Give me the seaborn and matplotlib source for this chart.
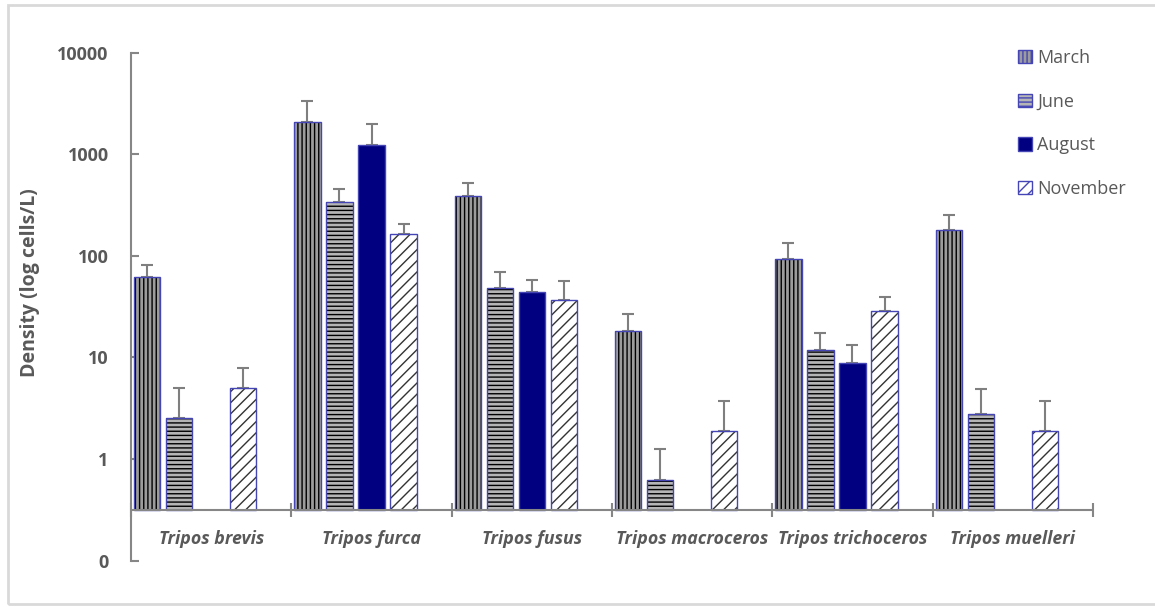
import seaborn as sns
import matplotlib.pyplot as plt
import matplotlib.patches as mpatches
from matplotlib.ticker import FixedLocator, NullLocator
import numpy as np
import pandas as pd

species = ['Tripos brevis', 'Tripos furca', 'Tripos fusus',
           'Tripos macroceros', 'Tripos trichoceros', 'Tripos muelleri']
months = ['March', 'June', 'August', 'November']

# mean density (cells/L), None = no record
march = [62, 2090, 385, 18.4, 93, 180]
june = [2.53, 341, 48, 0.625, 11.9, 2.77]
august = [None, 1232, 43.9, None, 8.9, None]
november = [5.06, 164, 36.8, 1.87, 28.9, 1.87]

# upper error bar
march_err = [19, 1240, 136, 8.3, 41, 74]
june_err = [2.5, 114, 21, 0.64, 5.4, 2.1]
august_err = [None, 736, 14.4, None, 4.4, None]
november_err = [2.8, 42, 19.8, 1.9, 10.6, 1.9]

yticks = [0.1, 1, 10, 100, 1000, 10000]
yticklabels = ['0', '1', '10', '100', '1000', '10000']

values = {'March': march, 'June': june, 'August': august, 'November': november}
errors = {'March': march_err, 'June': june_err, 'August': august_err, 'November': november_err}

rows = []
for m in months:
    for s, v in zip(species, values[m]):
        if v is not None:
            rows.append({'species': s, 'month': m, 'density': v})
data = pd.DataFrame(rows)

sns.set_theme(style='white')
plt.rcParams['font.family'] = ['Open Sans', 'DejaVu Sans']
plt.rcParams['hatch.linewidth'] = 1.0

text_gray = '#595959'
axis_gray = '#868686'
edge_blue = '#4545b5'
styles = {
    'March': dict(fc='#9c9c9c', hatch='||||', hc='black'),
    'June': dict(fc='#b5b5b5', hatch='----', hc='black'),
    'August': dict(fc='#000080', hatch='', hc='#000080'),
    'November': dict(fc='white', hatch='///', hc='#333333'),
}
base = 10 ** -0.5  # where the category axis crosses

fig = plt.figure(figsize=(11.55, 6.07), dpi=100)
ax = fig.add_axes([131 / 1155, 0.0763, 962 / 1155, 0.8369])

# extra empty hue level keeps the 5-slot spacing of the original
hue_levels = months + ['_blank']
pal = {m: styles[m]['fc'] for m in months}
pal['_blank'] = 'white'
sns.barplot(data=data, x='species', y='density', hue='month', order=species,
            hue_order=hue_levels, palette=pal, width=1.0, gap=0.18,
            errorbar=None, legend=False, ax=ax)

for cont, m in zip(ax.containers, hue_levels):
    if m not in styles:
        continue
    st = styles[m]
    xs, tops, errs = [], [], []
    for p in cont.patches:
        top = p.get_y() + p.get_height()
        p.set_y(base)
        p.set_height(top - base)
        p.set_facecolor(st['fc'])
        p.set_hatch(st['hatch'])
        p.set_edgecolor(st['hc'])
        p.set_linewidth(0)
        ax.add_patch(mpatches.Rectangle(p.get_xy(), p.get_width(), p.get_height(),
                                        fill=False, ec=edge_blue, lw=1.0, zorder=p.get_zorder() + 0.1))
        cx = p.get_x() + p.get_width() / 2
        i = int(round(cx))
        xs.append(cx)
        tops.append(top)
        errs.append(errors[m][i])
    ax.errorbar(xs, tops, yerr=[np.zeros(len(errs)), errs], fmt='none',
                ecolor='#7f7f7f', elinewidth=1.5, capsize=4, capthick=1.5, zorder=1)

ax.set_yscale('log')
ax.set_ylim(0.1, 10000)
ax.set_xlim(-0.5, len(species) - 0.5)
ax.yaxis.set_major_locator(FixedLocator(yticks))
ax.yaxis.set_minor_locator(NullLocator())
ax.set_yticklabels(yticklabels)
ax.tick_params(axis='y', direction='in', length=6, width=1.5, color=axis_gray,
               labelcolor=text_gray, labelsize=13, pad=16, left=True)
for lab in ax.get_yticklabels():
    lab.set_fontweight('bold')
ax.tick_params(axis='x', bottom=False, labelbottom=False)
ax.set_xlabel('')
ax.set_ylabel('')
for side in ['top', 'right', 'bottom']:
    ax.spines[side].set_visible(False)
ax.spines['left'].set_color(axis_gray)
ax.spines['left'].set_linewidth(1.5)

ax.axhline(base, color=axis_gray, lw=1.5, zorder=3)
ax.plot(np.arange(len(species) + 1) - 0.5, [base] * (len(species) + 1), ls='none',
        marker='|', ms=10, mew=1.5, color=axis_gray, clip_on=False, zorder=3)

for i, s in enumerate(species):
    ax.text(i, 0.163, s, ha='center', va='center', style='italic', fontweight='bold',
            fontsize=12.8, color=text_gray)

fig.text(30 / 1155, 1 - 283 / 607, 'Density (log cells/L)', rotation=90,
         ha='center', va='center', fontweight='bold', fontsize=14, color=text_gray)

handles = []
for m in months:
    st = styles[m]
    h = mpatches.Patch(facecolor=st['fc'], edgecolor=edge_blue, hatch=st['hatch'], lw=1.0)
    handles.append(h)
fig.legend(handles, months, loc='upper left', bbox_to_anchor=(1009 / 1155, 1 - 40 / 607),
           frameon=False, fontsize=13, labelcolor=text_gray, handlelength=0.75,
           handleheight=0.75, handletextpad=0.3, labelspacing=1.42, borderpad=0)

fig.add_artist(mpatches.Rectangle((8 / 1155, 3 / 607), 1.0, 599 / 607, transform=fig.transFigure,
                                  fill=False, ec='#d9d9d9', lw=2))

fig.savefig('out.png', dpi=100)
